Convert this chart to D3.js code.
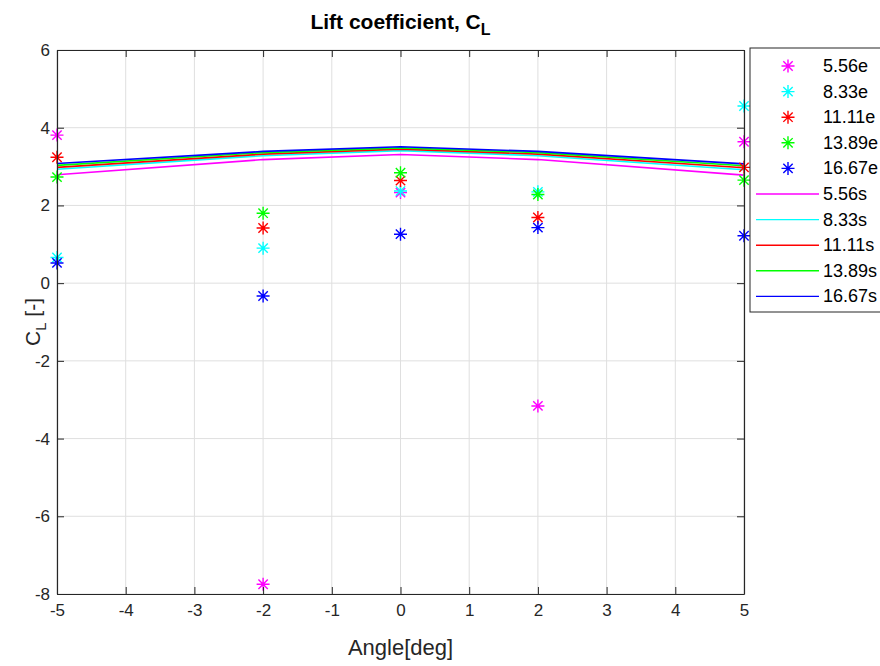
<!DOCTYPE html>
<html>
<head>
<meta charset="utf-8">
<script src="https://cdn.jsdelivr.net/npm/d3@7"></script>
<style>
  body { margin: 0; background: #fff; }
  svg { display: block; font-family: "Liberation Sans", Arial, Helvetica, sans-serif; }
</style>
</head>
<body>
<svg id="chart" width="880" height="666"></svg>
<script>
// angles of attack (deg)
const angles = [-5, -2, 0, 2, 5]

// experiment ("e") and simulation ("s") series, by speed
const speeds = ["5.56", "8.33", "11.11", "13.89", "16.67"]
const colors = ["#ff00ff", "#00ffff", "#ff0000", "#00ff00", "#0000ff"]

const exp556 = [3.81, -7.75, 2.33, -3.16, 3.64]
const exp833 = [0.66, 0.90, 2.37, 2.35, 4.56]
const exp1111 = [3.24, 1.42, 2.64, 1.69, 2.98]
const exp1389 = [2.73, 1.80, 2.84, 2.28, 2.65]
const exp1667 = [0.52, -0.33, 1.26, 1.43, 1.22]

const sim556 = [2.79, 3.18, 3.31, 3.18, 2.78]
const sim833 = [2.93, 3.28, 3.41, 3.28, 2.92]
const sim1111 = [2.98, 3.32, 3.45, 3.32, 2.97]
const sim1389 = [3.03, 3.36, 3.48, 3.36, 3.02]
const sim1667 = [3.08, 3.39, 3.51, 3.39, 3.07]

const xTicks = [-5, -4, -3, -2, -1, 0, 1, 2, 3, 4, 5]
const yTicks = [-8, -6, -4, -2, 0, 2, 4, 6]

const expSeries = [exp556, exp833, exp1111, exp1389, exp1667]
const simSeries = [sim556, sim833, sim1111, sim1389, sim1667]

const margin = {left: 57, right: 136, top: 50, bottom: 72}
const width = 880, height = 666
const axisColor = "#262626"

const svg = d3.select("#chart")

const x = d3.scaleLinear().domain([-5, 5]).range([margin.left, width - margin.right])
const y = d3.scaleLinear().domain([-8, 6]).range([height - margin.bottom, margin.top])

// grid
const grid = svg.append("g").attr("class", "grid")
grid.selectAll(".gx").data(xTicks).enter().append("line")
  .attr("x1", d => x(d)).attr("x2", d => x(d))
  .attr("y1", y(-8)).attr("y2", y(6))
  .attr("stroke", "#dfdfdf").attr("stroke-width", 1)
grid.selectAll(".gy").data(yTicks).enter().append("line")
  .attr("x1", x(-5)).attr("x2", x(5))
  .attr("y1", d => y(d)).attr("y2", d => y(d))
  .attr("stroke", "#dfdfdf").attr("stroke-width", 1)

// simulation lines
const line = d3.line().x((d, i) => x(angles[i])).y(d => y(d))
simSeries.forEach((s, k) => {
  svg.append("path")
    .datum(s)
    .attr("d", line)
    .attr("fill", "none")
    .attr("stroke", colors[k])
    .attr("stroke-width", 1.6)
})

// asterisk marker
function star(cx, cy, r) {
  const d = r * 0.72
  return `M${cx - r},${cy}L${cx + r},${cy}M${cx},${cy - r}L${cx},${cy + r}` +
    `M${cx - d},${cy - d}L${cx + d},${cy + d}M${cx - d},${cy + d}L${cx + d},${cy - d}`
}

expSeries.forEach((s, k) => {
  svg.append("g").selectAll("path").data(s).enter().append("path")
    .attr("d", (d, i) => star(x(angles[i]), y(d), 6.5))
    .attr("fill", "none")
    .attr("stroke", colors[k])
    .attr("stroke-width", 1.4)
})

// axes
const fmt = d => String(d)
const xAxis = svg.append("g")
  .attr("transform", `translate(0,${y(-8)})`)
  .call(d3.axisBottom(x).tickValues(xTicks).tickFormat(fmt).tickSizeInner(-7).tickSizeOuter(0).tickPadding(10))
const yAxis = svg.append("g")
  .attr("transform", `translate(${x(-5)},0)`)
  .call(d3.axisLeft(y).tickValues(yTicks).tickFormat(fmt).tickSizeInner(-7).tickSizeOuter(0).tickPadding(7))
const xTop = svg.append("g")
  .attr("transform", `translate(0,${y(6)})`)
  .call(d3.axisTop(x).tickValues(xTicks).tickSizeInner(-7).tickSizeOuter(0).tickFormat(""))
const yRight = svg.append("g")
  .attr("transform", `translate(${x(5)},0)`)
  .call(d3.axisRight(y).tickValues(yTicks).tickSizeInner(-7).tickSizeOuter(0).tickFormat(""))

;[xAxis, yAxis, xTop, yRight].forEach(a => {
  a.select(".domain").attr("stroke", axisColor).attr("stroke-width", 1.2)
  a.selectAll(".tick line").attr("stroke", axisColor)
  a.selectAll(".tick text").attr("fill", axisColor).attr("font-size", 17)
    .attr("font-family", "'Liberation Sans', Arial, sans-serif")
})

// title
const title = svg.append("text")
  .attr("x", (x(-5) + x(5)) / 2).attr("y", 29)
  .attr("text-anchor", "middle")
  .attr("font-size", 21).attr("font-weight", "bold").attr("fill", "#000")
title.append("tspan").text("Lift coefficient, C")
title.append("tspan").attr("font-size", 16).attr("dy", 6).text("L")

// axis labels
svg.append("text")
  .attr("x", (x(-5) + x(5)) / 2).attr("y", 655)
  .attr("text-anchor", "middle")
  .attr("font-size", 22).attr("fill", axisColor)
  .text("Angle[deg]")

const yl = svg.append("text")
  .attr("transform", `translate(40,${(y(-8) + y(6)) / 2}) rotate(-90)`)
  .attr("text-anchor", "middle")
  .attr("font-size", 21).attr("fill", axisColor)
yl.append("tspan").text("C")
yl.append("tspan").attr("font-size", 15).attr("dy", 6).text("L")
yl.append("tspan").attr("dy", -6).text(" [-]")

// legend
const legX = 750, legY = 48, rowH = 25.6
svg.append("rect")
  .attr("x", legX).attr("y", legY)
  .attr("width", 140).attr("height", 264)
  .attr("fill", "#fff").attr("stroke", axisColor).attr("stroke-width", 1)

const legend = svg.append("g")
speeds.forEach((sp, k) => {
  const cy = legY + 18 + k * rowH
  legend.append("path")
    .attr("d", star(788, cy, 6.5))
    .attr("fill", "none").attr("stroke", colors[k]).attr("stroke-width", 1.4)
  legend.append("text")
    .attr("x", 823).attr("y", cy + 6)
    .attr("font-size", 18).attr("fill", "#000")
    .text(sp + "e")
})
speeds.forEach((sp, k) => {
  const cy = legY + 18 + (k + 5) * rowH
  legend.append("line")
    .attr("x1", 756).attr("x2", 819).attr("y1", cy).attr("y2", cy)
    .attr("stroke", colors[k]).attr("stroke-width", 1.4)
  legend.append("text")
    .attr("x", 823).attr("y", cy + 6)
    .attr("font-size", 18).attr("fill", "#000")
    .text(sp + "s")
})
</script>
</body>
</html>
